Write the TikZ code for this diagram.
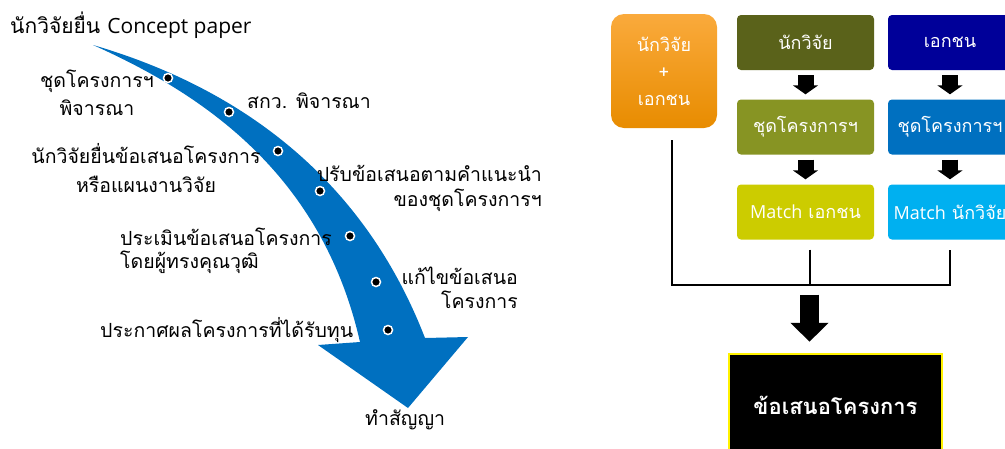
\documentclass[tikz,border=0pt]{standalone}
\usepackage{fontspec}
\setmainfont{Loma}[Script=Thai]
\newfontfamily\latin{Open Sans}
\usetikzlibrary{arrows.meta}
\definecolor{swoosh}{RGB}{0,112,192}
\definecolor{oliveA}{RGB}{90,98,26}
\definecolor{oliveB}{RGB}{135,148,35}
\definecolor{limeC}{RGB}{204,204,0}
\definecolor{navyA}{RGB}{0,0,153}
\definecolor{blueB}{RGB}{0,112,192}
\definecolor{skyC}{RGB}{0,176,240}
\definecolor{orgTop}{RGB}{250,170,60}
\definecolor{orgBot}{RGB}{232,140,0}
\begin{document}
\begin{tikzpicture}[x=1pt,y=-1pt,
    lbl/.style={font=\fontsize{19.5}{27}\selectfont,inner sep=0pt},
    tile/.style={rounded corners=4pt,minimum width=137pt,minimum height=55pt,
      text=white,font=\fontsize{18}{27}\selectfont,inner sep=0pt},
    dot/.style={circle,fill=black,draw=white,line width=1.5pt,minimum size=9pt,inner sep=0pt},
    downarrow/.style={line width=16pt,-{Triangle[length=9pt,width=25pt]}},
    bigarrow/.style={line width=19pt,-{Triangle[length=19pt,width=37pt]}},
    busline/.style={line width=2pt}]
  \useasboundingbox(0,0)rectangle(1005,448);
  % curved arrow
  \fill[swoosh](93,45).. controls (230,85) and (360,170) ..(425,338)
       --(468,337)--(408,408)--(318,345)--(360,342)
       .. controls (322,175) and (205,95) ..(93,45)--cycle;
  \node[dot](d1)at(168,78){};
  \node[dot](d2)at(229,112){};
  \node[dot](d3)at(278,151){};
  \node[dot](d4)at(320,191){};
  \node[dot](d5)at(350,236){};
  \node[dot](d6)at(376,282){};
  \node[dot](d7)at(388,330){};
  \node[lbl,anchor=base west,font=\fontsize{21}{27}\selectfont](start)at(10,33){นักวิจัยยื่น {\latin Concept paper}};
  \node[lbl,anchor=base,align=center,font=\fontsize{19.5}{28}\selectfont](panel)at(97,115){ชุดโครงการฯ\\พิจารณา};
  \node[lbl,anchor=base west](trf)at(247,108){สกว. พิจารณา};
  \node[lbl,anchor=base,align=center,font=\fontsize{19.5}{29}\selectfont](submit)at(146,192){นักวิจัยยื่นข้อเสนอโครงการ\\หรือแผนงานวิจัย};
  \node[lbl,anchor=base east,align=right,font=\fontsize{19.5}{25}\selectfont](revise)at(542,206){ปรับข้อเสนอตามคำแนะนำ\\ของชุดโครงการฯ};
  \node[lbl,anchor=base west,align=left,font=\fontsize{19.5}{23}\selectfont](review)at(120,268){ประเมินข้อเสนอโครงการ\\โดยผู้ทรงคุณวุฒิ};
  \node[lbl,anchor=base east,align=right,font=\fontsize{19.5}{24}\selectfont](fix)at(518,308){แก้ไขข้อเสนอ\\โครงการ};
  \node[lbl,anchor=base west](award)at(100,337){ประกาศผลโครงการที่ได้รับทุน};
  \node[lbl,anchor=base west](contract)at(365,425){ทำสัญญา};
  % boxes
  \node[tile,top color=orgTop,bottom color=orgBot,rounded corners=13pt,
    minimum width=106pt,minimum height=114pt,align=center](mix)at(664,71){นักวิจัย\\+\\เอกชน};
  \node[tile,fill=oliveA](resA)at(805.5,42.5){นักวิจัย};
  \node[tile,fill=oliveB](progA)at(805.5,127){ชุดโครงการฯ};
  \node[tile,fill=limeC](matchA)at(805.5,212){{\latin Match} เอกชน};
  \node[tile,fill=navyA,minimum width=124pt](resB)at(950,42.5){เอกชน};
  \node[tile,fill=blueB,minimum width=124pt](progB)at(950,127){ชุดโครงการฯ};
  \node[tile,fill=skyC,minimum width=124pt](matchB)at(950,212){{\latin Match} นักวิจัย};
  \node[fill=black,draw=yellow,line width=2.5pt,minimum width=213pt,minimum height=102pt,
    text=white,font=\fontsize{22}{27}\selectfont\bfseries](result)at(835.5,405){ข้อเสนอโครงการ};
  \draw[downarrow]([yshift=-5pt]resA.south)--([yshift=5pt]progA.north);
  \draw[downarrow]([yshift=-5pt]progA.south)--([yshift=5pt]matchA.north);
  \draw[downarrow]([yshift=-5pt]resB.south)--([yshift=5pt]progB.north);
  \draw[downarrow]([yshift=-5pt]progB.south)--([yshift=5pt]matchB.north);
  % joining lines
  \coordinate(bus)at([xshift=4pt,yshift=-45pt]matchA.south);
  \draw[busline]([xshift=8pt,yshift=-12pt]mix.south)|-(bus-|matchB.south)--([yshift=-10pt]matchB.south);
  \draw[busline]([xshift=4pt,yshift=-10pt]matchA.south)--(bus);
  \draw[bigarrow]([yshift=-10pt]bus)--([yshift=11pt]bus|-result.north);
\end{tikzpicture}
\end{document}
